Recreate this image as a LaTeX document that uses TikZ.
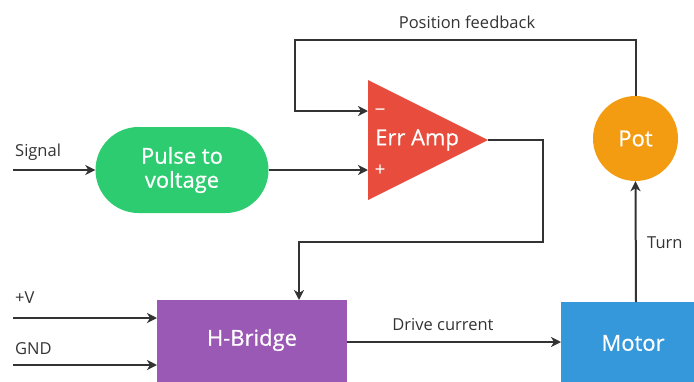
\documentclass[tikz,border=0pt]{standalone}
\usepackage{fontspec}
\setmainfont{Open Sans}
\usetikzlibrary{arrows.meta}
\definecolor{cgreen}{HTML}{2ECC71}
\definecolor{cred}{HTML}{E74C3C}
\definecolor{corange}{HTML}{F39C12}
\definecolor{cpurple}{HTML}{9B59B6}
\definecolor{cblue}{HTML}{3498DB}
\definecolor{cline}{HTML}{333333}
\tikzset{
  conn/.style={draw=cline, line width=2pt, -{Stealth[length=10pt,width=10pt,inset=3pt]}},
  lbl/.style={text=cline, font=\fontsize{16.5}{19}\selectfont, inner sep=0pt},
  blocktext/.style={text=white, font=\fontsize{22}{24}\selectfont\addfontfeature{FakeBold=0.6}, align=center},
  signtext/.style={text=white, font=\fontsize{18}{20}\selectfont\addfontfeature{FakeBold=0.6}, inner sep=0pt},
}
\begin{document}
\begin{tikzpicture}[x=1pt,y=-1pt]
\useasboundingbox (0,0) rectangle (694,381);
% blocks
\node[fill=cgreen, rounded corners=43pt, minimum width=173pt, minimum height=86pt, blocktext] (pulse) at (182,170) {Pulse to\\voltage};
\coordinate (ta) at (368,80);
\coordinate (tb) at (368,200);
\coordinate (tout) at (488,140);
\fill[cred] (ta) -- (tout) -- (tb) -- cycle;
\coordinate (inm) at (368,111);
\coordinate (inp) at (368,170);
\node[blocktext, anchor=west, inner sep=0pt] (amp) at (375,140) {Err Amp};
\node[signtext] (minus) at (380,112) {\char"2212};
\node[signtext] (plus) at (380,170) {+};
\node[fill=corange, circle, minimum size=85pt, inner sep=0pt, blocktext] (pot) at (635.5,138.5) {Pot};
\node[fill=cpurple, minimum width=190pt, minimum height=90pt, anchor=north west, inner sep=0pt] (hb) at (157,300) {};
\node[blocktext] (hbt) at (252,340) {H-Bridge};
\node[fill=cblue, minimum width=140pt, minimum height=90pt, anchor=north west, inner sep=0pt] (motor) at (561,302) {};
\node[blocktext] (mt) at (633,343) {Motor};
% free ends
\coordinate (sig) at (13,170);
\coordinate (vp) at (13,318);
\coordinate (gnd) at (13,365);
\coordinate (fb1) at (635.5,40);
\coordinate (fb2) at (295,40);
\coordinate (fb3) at (295,111);
\coordinate (o1) at (543,140);
\coordinate (o2) at (543,242);
\coordinate (o3) at (299,242);
\coordinate (hbin) at (299,300);
\coordinate (hbv) at (157,318);
\coordinate (hbg) at (157,365);
\coordinate (hbo) at (347,342);
\coordinate (min) at (561,342);
\coordinate (mup) at (636,302);
% connectors
\draw[conn] (sig) -- (pulse.west);
\draw[conn] (pulse.east) -- (inp);
\draw[conn] (pot.north) -- (fb1) -- (fb2) -- (fb3) -- (inm);
\draw[conn] (tout) -- (o1) -- (o2) -- (o3) -- (hbin);
\draw[conn] (vp) -- (hbv);
\draw[conn] (gnd) -- (hbg);
\draw[conn] (hbo) -- (min);
\draw[conn] (mup) -- (pot.south);
% labels
\node[lbl, anchor=west] (lsig) at (15,152) {Signal};
\node[lbl, anchor=west] (lvp) at (15,298) {+V};
\node[lbl, anchor=west] (lgnd) at (15,349) {GND};
\node[lbl] (lfb) at (467,22) {Position feedback};
\node[lbl] (ldc) at (443,325) {Drive current};
\node[lbl, anchor=west] (lturn) at (647,243) {Turn};
\end{tikzpicture}
\end{document}
